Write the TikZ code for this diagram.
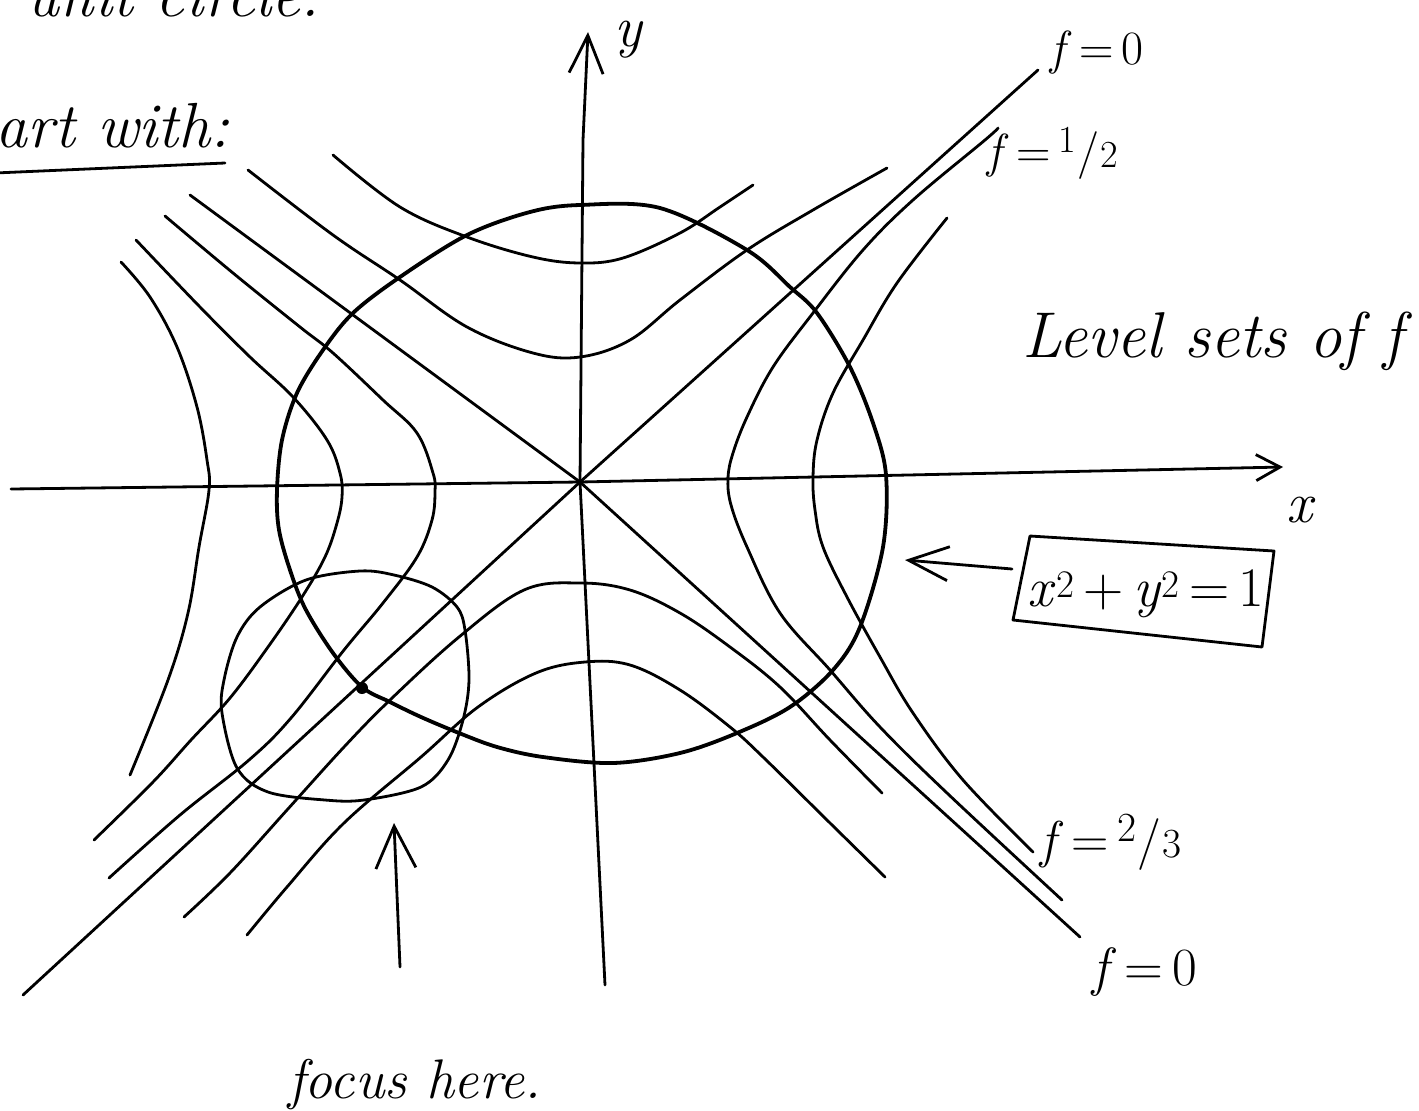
\documentclass[tikz,border=0pt]{standalone}
\usepackage{fontspec}
\usetikzlibrary{arrows.meta}
\newcommand\hfrac[2]{\raisebox{0.3em}{\scalebox{0.8}{#1}}\kern0.02em/\kern0.02em\scalebox{0.8}{#2}}
\tikzset{
  curve/.style={line width=2.8bp, line cap=round, line join=round},
  ucirc/.style={line width=3.8bp, line cap=round, line join=round},
  axisline/.style={line width=2.8bp, line cap=round, line join=round},
  hand/.style={inner sep=0pt, outer sep=0pt, anchor=base west, font=\fontsize{64}{70}\selectfont\itshape},
  lab/.style={inner sep=0pt, outer sep=0pt, anchor=base west},
}
\begin{document}
\begin{tikzpicture}[x=1bp,y=-1bp]
\useasboundingbox (0,0) rectangle (1419,1110);
\clip (0,0) rectangle (1419,1110);
\fill[white] (0,0) rectangle (1419,1110);

% ---------- texts at the top left ----------
\node[hand] (top) at (25,16) {unit circle.};
\node[hand] (start) at (-60,147) {Start with:};
\draw[axisline] (-5,173) -- (225,163);

% ---------- axes ----------
\coordinate (O) at (580,482);
\coordinate (xl) at (11,489);
\coordinate (xr) at (1283,467);
\coordinate (yb) at (605,985);
\coordinate (ym) at (583,140);
\coordinate (yt) at (588,32);
\draw[axisline, -{Straight Barb[length=24bp,width=26bp]}] (xl) -- (O) -- (xr);
\draw[axisline, -{Straight Barb[length=38bp,width=34bp]}] (yb) -- (O) -- (ym) -- (yt);
\node[hand, font=\fontsize{58}{62}\selectfont\itshape] (xlab) at (1286,522) {x};
\node[hand, font=\fontsize{58}{62}\selectfont\itshape] (ylab) at (614,46) {y};

% ---------- f = 0 lines ----------
\coordinate (L1a) at (23,995);
\coordinate (L1b) at (1038,70);
\coordinate (L2a) at (190,195);
\coordinate (L2b) at (1080,937);
\draw[curve] (L1a) -- (O) -- (L1b);
\draw[curve] (L2a) -- (O) -- (L2b);

% ---------- level sets (hyperbolas) ----------
% upper
\draw[curve] plot[smooth, tension=0.6] coordinates {(333,155) (400,207) (467,237) (533,257) (580,263) (623,258) (680,233) (720,207) (753,185)};
\draw[curve] plot[smooth, tension=0.6] coordinates {(248,170) (333,235) (400,280) (467,327) (533,353) (580,357) (630,340) (680,300) (747,250) (813,210) (887,168)};
% lower
\draw[curve] plot[smooth, tension=0.6] coordinates {(184,917) (230,873) (287,810) (344,747) (390,700) (459,637) (524,590) (580,583) (630,590) (680,613) (730,647) (780,687) (830,740) (882,793)};
\draw[curve] plot[smooth, tension=0.6] coordinates {(247,935) (287,887) (344,823) (421,757) (478,707) (536,673) (585,662) (630,665) (680,690) (730,727) (763,757) (830,823) (885,877)};
% left
\draw[curve] plot[smooth, tension=0.6] coordinates {(121,262) (150,297) (177,347) (197,407) (207,460) (209,490) (199,547) (188,613) (168,680) (130,775)};
\draw[curve] plot[smooth, tension=0.6] coordinates {(136,240) (200,307) (250,357) (293,397) (327,440) (340,473) (342,497) (337,523) (325,557) (302,597) (268,647) (230,698) (191,740) (153,782) (94,840)};
\draw[curve] plot[smooth, tension=0.6] coordinates {(165,216) (233,273) (300,327) (333,353) (383,400) (417,433) (433,473) (435,492) (432,520) (417,557) (383,603) (344,650) (291,718) (249,760) (180,815) (109,878)};
% right
\draw[curve] plot[smooth, tension=0.6] coordinates {(998,128) (985,140) (913,200) (863,250) (813,313) (773,367) (747,417) (733,453) (728,478) (731,505) (747,547) (780,613) (830,670) (880,727) (947,793) (1062,900)};
\draw[curve] plot[smooth, tension=0.6] coordinates {(947,218) (897,283) (863,340) (833,393) (817,440) (813,477) (815,510) (823,547) (847,597) (880,657) (913,713) (963,780) (1033,852)};

% ---------- unit circle ----------
\draw[ucirc] plot[smooth cycle, tension=0.55] coordinates {(580,205) (660,208) (747,250) (790,287) (817,313) (850,367) (873,423) (886,475) (883,547) (860,627) (833,670) (790,707) (737,733) (680,753) (613,763) (543,757) (497,747) (459,733) (421,717) (390,702) (362,687) (333,653) (306,610) (291,573) (279,530) (277,490) (282,440) (297,393) (323,350) (353,313) (400,277) (467,235) (530,212)};
\node[circle, fill, inner sep=0pt, minimum size=12bp] (dot) at (362,688) {};

% ---------- focus circle ----------
\draw[curve] plot[smooth cycle, tension=0.55] coordinates {(360,571) (306,580) (260,607) (237,637) (224,680) (222,713) (237,768) (268,792) (325,800) (364,800) (421,787) (448,760) (463,720) (469,680) (465,630) (457,607) (432,587) (394,575)};

% ---------- labels of level sets ----------
\node[lab, font=\fontsize{48}{52}\selectfont] (f0top) at (1050,64) {\textit{f}\,=\,0};
\node[lab, font=\fontsize{48}{52}\selectfont] (fhalf) at (987,167) {\textit{f}\,=\,\hfrac{1}{2}};
\node[lab, font=\fontsize{52}{56}\selectfont] (ftwo) at (1040,857) {\textit{f}\,=\,\hfrac{2}{3}};
\node[lab, font=\fontsize{54}{58}\selectfont] (f0bot) at (1092,985) {\textit{f}\,=\,0};
\node[hand, font=\fontsize{65}{70}\selectfont\itshape] (lvl) at (1022,357) {Level sets of f};

% ---------- boxed equation and its arrow ----------
\coordinate (bx1) at (1030,536);
\coordinate (bx2) at (1274,551);
\coordinate (bx3) at (1262,647);
\coordinate (bx4) at (1013,620);
\draw[curve] (bx1) -- (bx2) -- (bx3) -- (bx4) -- cycle;
\node[inner sep=0pt, anchor=base, font=\fontsize{56}{60}\selectfont] (eq) at (1146,606) {\textit{x}\textsuperscript{2}\,+\,\textit{y}\textsuperscript{2}\,=\,1};
\coordinate (eqtail) at (1012,569);
\coordinate (eqtip) at (905,560);
\draw[curve, -{Straight Barb[length=40bp,width=34bp]}] (eqtail) -- (eqtip);

% ---------- focus arrow and text ----------
\coordinate (ftail) at (400,967);
\coordinate (ftip) at (394,823);
\draw[curve, -{Straight Barb[length=42bp,width=40bp]}] (ftail) -- (ftip);
\node[hand, font=\fontsize{56}{60}\selectfont\itshape] (focus) at (288,1098) {focus here.};
\end{tikzpicture}
\end{document}
